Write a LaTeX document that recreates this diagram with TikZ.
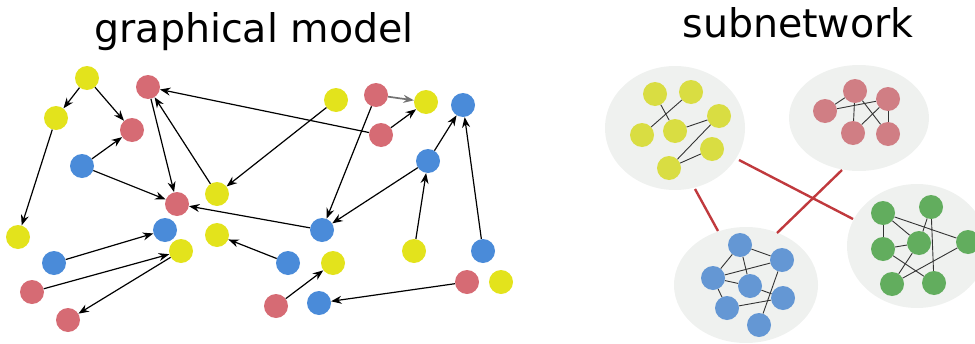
\documentclass[tikz,border=0pt]{standalone}
\usepackage{fontspec}
\setmainfont{DejaVu Sans}
\usetikzlibrary{arrows.meta,shapes.geometric}
\definecolor{gy}{RGB}{227,227,28}
\definecolor{gr}{RGB}{214,107,116}
\definecolor{gb}{RGB}{74,139,217}
\definecolor{sy}{RGB}{217,221,66}
\definecolor{sr}{RGB}{208,126,132}
\definecolor{sb}{RGB}{100,151,212}
\definecolor{sg}{RGB}{98,173,94}
\definecolor{ell}{RGB}{239,241,239}
\definecolor{link}{RGB}{192,57,61}
\tikzset{
  dot/.style={circle,minimum size=24pt,inner sep=0pt,draw=none},
  Y/.style={dot,fill=gy}, R/.style={dot,fill=gr}, B/.style={dot,fill=gb},
  sY/.style={dot,fill=sy}, sR/.style={dot,fill=sr}, sB/.style={dot,fill=sb}, sG/.style={dot,fill=sg},
  arr/.style={-{Stealth[length=10.5pt,width=8pt]},line width=1.2pt,black},
  garr/.style={arr,draw=black!55,line width=1.7pt},
  und/.style={line width=0.9pt,black!80},
  grp/.style={ellipse,fill=ell,draw=none,inner sep=0pt},
  lnk/.style={line width=2.4pt,link},
  ttl/.style={anchor=base,font=\fontsize{39.5}{46}\selectfont}
}
\begin{document}
\begin{tikzpicture}[x=1pt,y=-1pt]
\useasboundingbox (0,0) rectangle (975,343);
% titles
\node[ttl] (t1) at (254,42) {graphical model};
\node[ttl] (t2) at (798,37) {subnetwork};
% graphical model nodes
\node[Y] (y1) at (87,78) {};
\node[Y] (y2) at (56,118) {};
\node[R] (r1) at (148,87) {};
\node[R] (r2) at (132,130) {};
\node[B] (b1) at (82,166) {};
\node[R] (r3) at (177,204) {};
\node[Y] (y3) at (217,194) {};
\node[Y] (y4) at (18,237) {};
\node[B] (b2) at (165,230) {};
\node[Y] (y5) at (181,251) {};
\node[Y] (y6) at (217,235) {};
\node[B] (b3) at (54,263) {};
\node[R] (r4) at (32,292) {};
\node[R] (r5) at (68,320) {};
\node[Y] (y7) at (336,100) {};
\node[R] (r6) at (376,95) {};
\node[Y] (y8) at (426,102) {};
\node[B] (b4) at (463,105) {};
\node[R] (r7) at (381,135) {};
\node[B] (b5) at (428,161) {};
\node[B] (b6) at (322,230) {};
\node[B] (b7) at (288,263) {};
\node[Y] (y9) at (333,263) {};
\node[R] (r8) at (276,306) {};
\node[B] (b8) at (319,303) {};
\node[Y] (y10) at (414,251) {};
\node[B] (b9) at (483,251) {};
\node[R] (r9) at (467,282) {};
\node[Y] (y11) at (501,282) {};
% arrows
\draw[arr] (y1) -- (y2);
\draw[arr] (y1) -- (r2);
\draw[arr] (y2) -- (y4);
\draw[arr] (b1) -- (r2);
\draw[arr] (b1) -- (r3);
\draw[arr] (r1) -- (r3);
\draw[arr] (y3) -- (r1);
\draw[arr] (r7) -- (r1);
\draw[arr] (y7) -- (y3);
\draw[garr] (r6) -- (y8);
\draw[arr] (r7) -- (y8);
\draw[arr] (b5) -- (b4);
\draw[arr] (r6) -- (b6);
\draw[arr] (b5) -- (b6);
\draw[arr] (b6) -- (r3);
\draw[arr] (y10) -- (b5);
\draw[arr] (b9) -- (b4);
\draw[arr] (b3) -- (b2);
\draw[arr] (r4) -- (y5);
\draw[arr] (y5) -- (r5);
\draw[arr] (b7) -- (y6);
\draw[arr] (r8) -- (y9);
\draw[arr] (r9) -- (b8);
% subnetwork groups
\node[grp,minimum width=140pt,minimum height=124pt] (gY) at (675,128) {};
\node[grp,minimum width=140pt,minimum height=106pt] (gR) at (859,118) {};
\node[grp,minimum width=144pt,minimum height=116pt] (gB) at (746,285) {};
\node[grp,minimum width=140pt,minimum height=124pt] (gG) at (917,246) {};
% links between groups
\coordinate (lya) at (695,189);
\coordinate (lba) at (718,231);
\coordinate (lyb) at (739,160);
\coordinate (lgb) at (853,219);
\coordinate (lrc) at (842,170);
\coordinate (lbc) at (777,233);
\draw[lnk] (lya) -- (lba);
\draw[lnk] (lyb) -- (lgb);
\draw[lnk] (lrc) -- (lbc);
% yellow subnetwork
\node[sY] (sy1) at (655,94) {};
\node[sY] (sy2) at (691,92) {};
\node[sY] (sy3) at (719,116) {};
\node[sY] (sy4) at (642,135) {};
\node[sY] (sy5) at (675,131) {};
\node[sY] (sy6) at (712,149) {};
\node[sY] (sy7) at (669,168) {};
\draw[und] (sy1) -- (sy5);
\draw[und] (sy4) -- (sy2);
\draw[und] (sy5) -- (sy3);
\draw[und] (sy7) -- (sy3);
\draw[und] (sy7) -- (sy6);
% red subnetwork
\node[sR] (sr1) at (855,91) {};
\node[sR] (sr2) at (888,99) {};
\node[sR] (sr3) at (825,111) {};
\node[sR] (sr4) at (853,133) {};
\node[sR] (sr5) at (888,134) {};
\draw[und] (sr3) -- (sr1);
\draw[und] (sr3) -- (sr2);
\draw[und] (sr1) -- (sr4);
\draw[und] (sr1) -- (sr5);
\draw[und] (sr4) -- (sr2);
\draw[und] (sr2) -- (sr5);
% blue subnetwork
\node[sB] (sb1) at (740,245) {};
\node[sB] (sb2) at (782,260) {};
\node[sB] (sb3) at (713,278) {};
\node[sB] (sb4) at (750,286) {};
\node[sB] (sb5) at (783,298) {};
\node[sB] (sb6) at (727,308) {};
\node[sB] (sb7) at (759,325) {};
\draw[und] (sb3) -- (sb1);
\draw[und] (sb1) -- (sb2);
\draw[und] (sb1) -- (sb4);
\draw[und] (sb3) -- (sb2);
\draw[und] (sb3) -- (sb4);
\draw[und] (sb2) -- (sb7);
\draw[und] (sb4) -- (sb5);
\draw[und] (sb3) -- (sb6);
\draw[und] (sb6) -- (sb5);
% green subnetwork
\node[sG] (sg1) at (883,213) {};
\node[sG] (sg2) at (931,207) {};
\node[sG] (sg3) at (883,249) {};
\node[sG] (sg4) at (919,243) {};
\node[sG] (sg5) at (968,242) {};
\node[sG] (sg6) at (892,284) {};
\node[sG] (sg7) at (934,283) {};
\draw[und] (sg1) -- (sg3);
\draw[und] (sg1) -- (sg5);
\draw[und] (sg1) -- (sg4);
\draw[und] (sg2) -- (sg4);
\draw[und] (sg2) -- (sg7);
\draw[und] (sg3) -- (sg4);
\draw[und] (sg3) -- (sg7);
\draw[und] (sg6) -- (sg4);
\draw[und] (sg6) -- (sg5);
\end{tikzpicture}
\end{document}
